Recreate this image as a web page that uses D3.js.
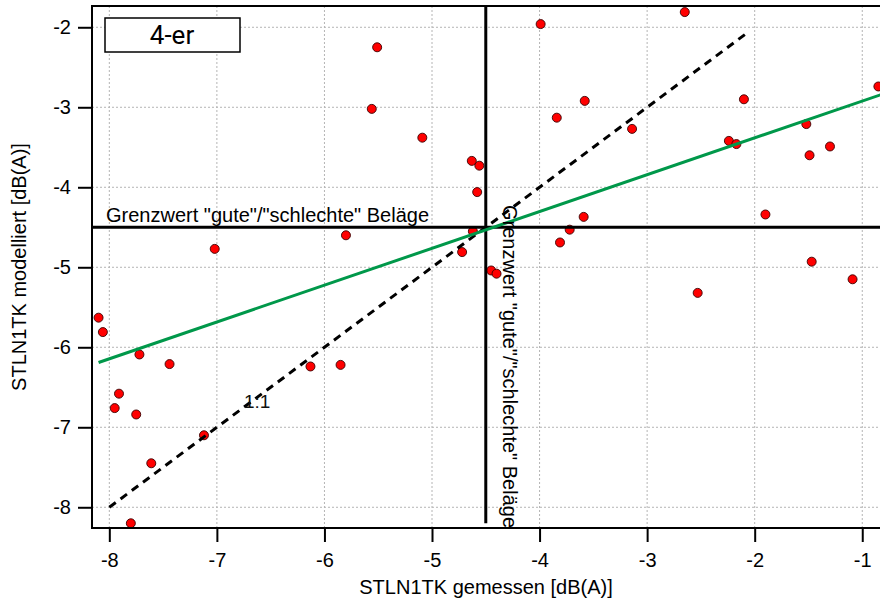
<!DOCTYPE html>
<html><head><meta charset="utf-8">
<script src="https://cdn.jsdelivr.net/npm/d3@7"></script>
<style>body{margin:0;background:#fff}svg{display:block}</style>
</head><body><svg id="c" width="880" height="602"></svg>
<script>
// measured (x) vs modelled (y) STLN1TK values [dB(A)]
const measuredX = [-8.10,-8.06,-7.02,-7.72,-7.44,-7.91,-7.95,-7.75,-7.12,-7.61,-7.80,
  -5.51,-5.56,-5.09,-4.63,-4.56,-4.58,-3.99,-3.84,-3.58,
  -5.80,-4.62,-4.72,-4.45,-4.40,-3.59,-3.72,-3.81,-6.13,-5.85,
  -2.65,-2.10,-3.14,-2.24,-2.17,-1.52,-1.49,-1.30,-0.85,
  -1.90,-1.47,-1.09,-2.53];
const modelledY = [-5.63,-5.81,-4.77,-6.09,-6.21,-6.58,-6.76,-6.84,-7.10,-7.45,-8.20,
  -2.25,-3.02,-3.38,-3.67,-3.73,-4.06,-1.96,-3.13,-2.92,
  -4.60,-4.55,-4.81,-5.04,-5.08,-4.37,-4.53,-4.69,-6.24,-6.22,
  -1.81,-2.90,-3.27,-3.42,-3.46,-3.21,-3.60,-3.49,-2.74,
  -4.34,-4.93,-5.15,-5.32];
const xTicks = [-8,-7,-6,-5,-4,-3,-2,-1];
const yTicks = [-2,-3,-4,-5,-6,-7,-8];
const fitX = [-8.10,-0.80];
const fitY = [-6.19,-2.83];
const oneToOne = [-8.0,-2.05];
const threshold = -4.5;
const xLabel = "STLN1TK gemessen [dB(A)]";
const yLabel = "STLN1TK modelliert [dB(A)]";
const thresholdLabel = 'Grenzwert "gute"/"schlechte" Beläge';
const panelLabel = "4-er";
const oneLabel = "1:1";

const FONT = "'Liberation Sans', Arial, sans-serif";
const L = 92, R = 880, T = 6, B = 528;
const svg = d3.select("#c");
const x = d3.scaleLinear().domain([-8.161, -0.835]).range([L, R]);
const y = d3.scaleLinear().domain([-1.734, -8.259]).range([T, B]);

svg.append("defs").append("clipPath").attr("id","clip")
  .append("rect").attr("x",L).attr("y",T).attr("width",R-L).attr("height",B-T);

// grid
const grid = svg.append("g").attr("stroke","#b4b4b4").attr("stroke-width",1).attr("stroke-dasharray","2,2");
grid.selectAll("line.gx").data(xTicks).join("line").attr("class","gx")
  .attr("x1",d=>x(d)).attr("x2",d=>x(d)).attr("y1",T).attr("y2",B);
grid.selectAll("line.gy").data(yTicks).join("line").attr("class","gy")
  .attr("y1",d=>y(d)).attr("y2",d=>y(d)).attr("x1",L).attr("x2",R);

const plot = svg.append("g").attr("clip-path","url(#clip)");

// points
plot.selectAll("circle").data(measuredX).join("circle")
  .attr("cx",d=>x(d)).attr("cy",(d,i)=>y(modelledY[i])).attr("r",4.5)
  .attr("fill","#ff0000").attr("stroke","#3a0000").attr("stroke-width",0.9);

// threshold lines
plot.append("line").attr("x1",L).attr("x2",R).attr("y1",y(threshold)).attr("y2",y(threshold))
  .attr("stroke","#000").attr("stroke-width",3);
plot.append("line").attr("x1",x(threshold)).attr("x2",x(threshold)).attr("y1",T).attr("y2",y(-8.2))
  .attr("stroke","#000").attr("stroke-width",3);

// 1:1 line
plot.append("line").attr("x1",x(oneToOne[0])).attr("y1",y(oneToOne[0]))
  .attr("x2",x(oneToOne[1])).attr("y2",y(oneToOne[1]))
  .attr("stroke","#000").attr("stroke-width",3).attr("stroke-dasharray","8,6");

// regression line
plot.append("line").attr("x1",x(fitX[0])).attr("y1",y(fitY[0]))
  .attr("x2",x(fitX[1])).attr("y2",y(fitY[1]))
  .attr("stroke","#00984a").attr("stroke-width",3);

// frame
const fr = svg.append("g").attr("stroke","#000").attr("stroke-width",2);
fr.append("line").attr("x1",L).attr("x2",R).attr("y1",T).attr("y2",T);
fr.append("line").attr("x1",L).attr("x2",L).attr("y1",T-1).attr("y2",B+1);
fr.append("line").attr("x1",L).attr("x2",R).attr("y1",B).attr("y2",B);

// axes
const ax = svg.append("g").attr("transform",`translate(0,${B})`)
  .call(d3.axisBottom(x).tickValues(xTicks).tickSize(14).tickPadding(11).tickFormat(d=>String(d)));
const ay = svg.append("g").attr("transform",`translate(${L},0)`)
  .call(d3.axisLeft(y).tickValues(yTicks).tickSize(14).tickPadding(7).tickFormat(d=>String(d)));
[ax,ay].forEach(g=>{
  g.select(".domain").remove();
  g.selectAll(".tick line").attr("stroke","#000").attr("stroke-width",2);
  g.selectAll(".tick text").attr("fill","#000").style("font-family",FONT).style("font-size","20px");
});

// axis titles
svg.append("text").attr("x",(L+R)/2).attr("y",594).attr("text-anchor","middle")
  .style("font-family",FONT).style("font-size","20px").text(xLabel);
svg.append("text").attr("transform",`translate(26,${(T+B)/2}) rotate(-90)`).attr("text-anchor","middle")
  .style("font-family",FONT).style("font-size","20px").text(yLabel);

// annotations
svg.append("text").attr("x",106).attr("y",222)
  .style("font-family",FONT).style("font-size","20px").text(thresholdLabel);
svg.append("text").attr("transform",`translate(503,205) rotate(90)`)
  .style("font-family",FONT).style("font-size","20px").text(thresholdLabel);
svg.append("text").attr("x",244).attr("y",408)
  .style("font-family",FONT).style("font-size","19px").attr("fill","#111").text(oneLabel);

// panel label box
svg.append("rect").attr("x",105).attr("y",18).attr("width",135).attr("height",34)
  .attr("fill","#fff").attr("stroke","#000").attr("stroke-width",1.5);
svg.append("text").attr("x",172).attr("y",44).attr("text-anchor","middle")
  .style("font-family","Roboto, 'DejaVu Sans Condensed', sans-serif").style("font-size","26px").text(panelLabel);
</script></body></html>
